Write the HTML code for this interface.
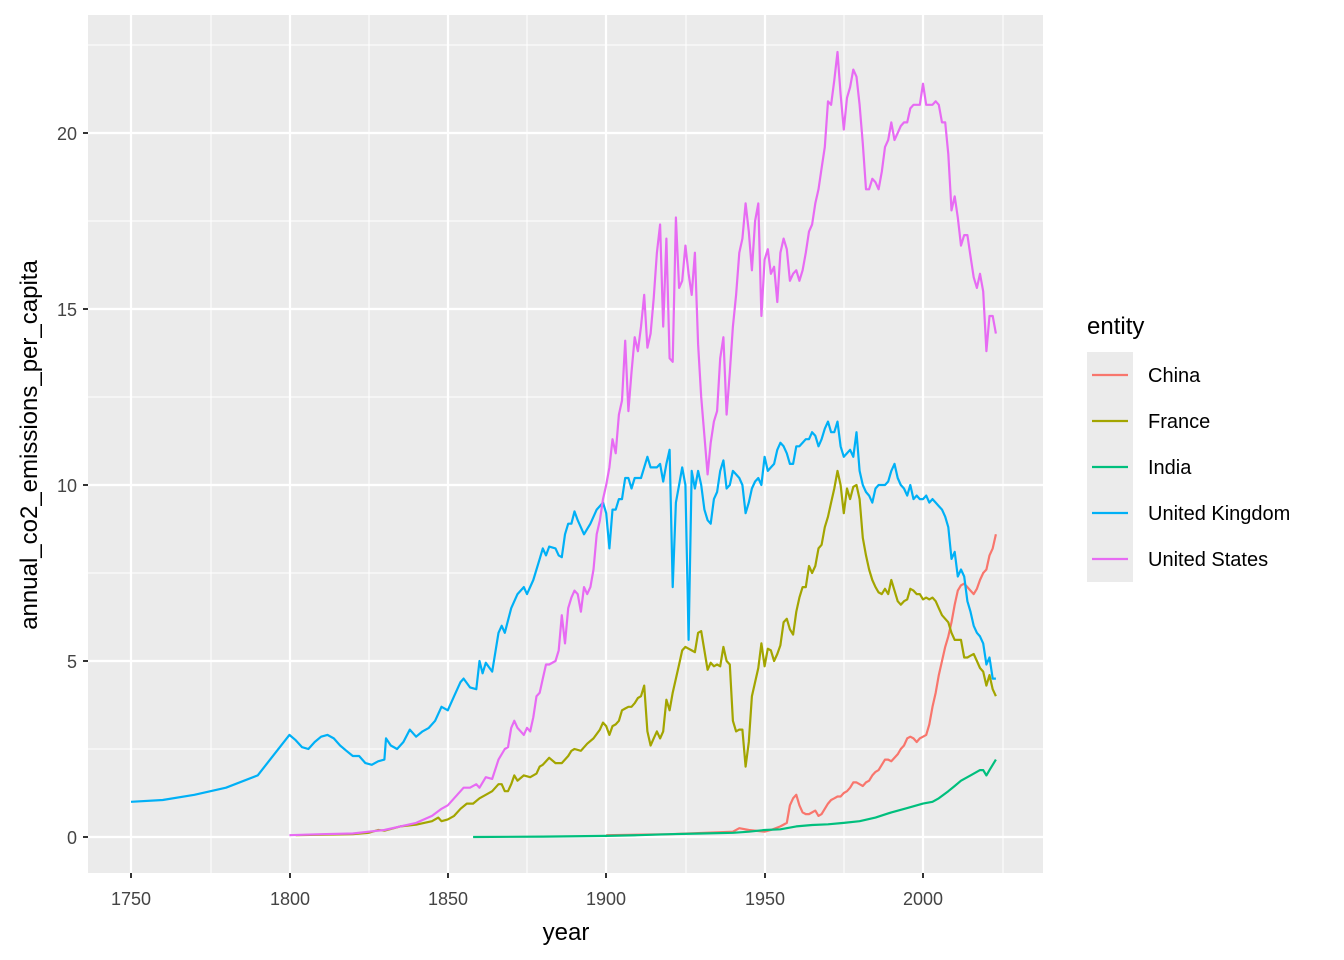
<!DOCTYPE html>
<html><head><meta charset="utf-8"><style>
html,body{margin:0;padding:0;background:#fff;}
svg{display:block;font-family:"Liberation Sans",Arial,sans-serif;}
</style></head><body>
<svg id="s" width="1344" height="960" xmlns="http://www.w3.org/2000/svg">
<rect x="0" y="0" width="1344" height="960" fill="#fff"/>
<rect x="88" y="15" width="955" height="858" fill="#ebebeb"/>
<g stroke="#fff" stroke-width="1" fill="none">
<line x1="88" x2="1043" y1="749" y2="749"/><line x1="88" x2="1043" y1="573" y2="573"/><line x1="88" x2="1043" y1="397" y2="397"/><line x1="88" x2="1043" y1="221" y2="221"/><line x1="88" x2="1043" y1="45" y2="45"/>
<line y1="15" y2="873" x1="211" x2="211"/><line y1="15" y2="873" x1="369" x2="369"/><line y1="15" y2="873" x1="527" x2="527"/><line y1="15" y2="873" x1="686" x2="686"/><line y1="15" y2="873" x1="844" x2="844"/><line y1="15" y2="873" x1="1003" x2="1003"/>
</g>
<g stroke="#fff" stroke-width="2.2" fill="none">
<line x1="88" x2="1043" y1="837" y2="837"/><line x1="88" x2="1043" y1="661" y2="661"/><line x1="88" x2="1043" y1="485" y2="485"/><line x1="88" x2="1043" y1="309" y2="309"/><line x1="88" x2="1043" y1="133" y2="133"/>
<line y1="15" y2="873" x1="131" x2="131"/><line y1="15" y2="873" x1="290" x2="290"/><line y1="15" y2="873" x1="448" x2="448"/><line y1="15" y2="873" x1="606" x2="606"/><line y1="15" y2="873" x1="765" x2="765"/><line y1="15" y2="873" x1="923" x2="923"/>
</g>
<g id="series" fill="none" stroke-width="2.2" stroke-linejoin="round"></g>
<g stroke="#333" stroke-width="2">
<line x1="83" x2="88" y1="837" y2="837"/><line x1="83" x2="88" y1="661" y2="661"/><line x1="83" x2="88" y1="485" y2="485"/><line x1="83" x2="88" y1="309" y2="309"/><line x1="83" x2="88" y1="133" y2="133"/>
<line y1="873" y2="878" x1="131" x2="131"/><line y1="873" y2="878" x1="290" x2="290"/><line y1="873" y2="878" x1="448" x2="448"/><line y1="873" y2="878" x1="606" x2="606"/><line y1="873" y2="878" x1="765" x2="765"/><line y1="873" y2="878" x1="923" x2="923"/>
</g>
<g fill="#444" font-size="18" text-anchor="end">
<text x="77" y="844">0</text><text x="77" y="668">5</text><text x="77" y="492">10</text><text x="77" y="316">15</text><text x="77" y="140">20</text>
</g>
<g fill="#444" font-size="18" text-anchor="middle">
<text x="131" y="905">1750</text><text x="290" y="905">1800</text><text x="448" y="905">1850</text><text x="606" y="905">1900</text><text x="765" y="905">1950</text><text x="923" y="905">2000</text>
</g>
<text x="566" y="940" font-size="24" text-anchor="middle" fill="#000">year</text>
<text transform="translate(37,445) rotate(-90)" font-size="24" text-anchor="middle" fill="#000">annual_co2_emissions_per_capita</text>
<text x="1087" y="334" font-size="24" fill="#000">entity</text>
<rect x="1087" y="352" width="46" height="230" fill="#ebebeb"/>
<g stroke-width="2.2">
<line x1="1092" x2="1128" y1="375" y2="375" stroke="#F8766D"/>
<line x1="1092" x2="1128" y1="421" y2="421" stroke="#A3A500"/>
<line x1="1092" x2="1128" y1="467" y2="467" stroke="#00BF7D"/>
<line x1="1092" x2="1128" y1="513" y2="513" stroke="#00B0F6"/>
<line x1="1092" x2="1128" y1="559" y2="559" stroke="#E76BF3"/>
</g>
<g font-size="20" fill="#000">
<text x="1148" y="382">China</text><text x="1148" y="428">France</text><text x="1148" y="474">India</text><text x="1148" y="520">United Kingdom</text><text x="1148" y="566">United States</text>
</g>
</svg>
<script>
function X(y){return 131+(y-1750)*3.168;}
function Y(v){return 837-35.2*v;}
function pts(arr){var o=[];for(var i=0;i<arr.length;i+=2)o.push(X(arr[i]).toFixed(1)+","+Y(arr[i+1]).toFixed(1));return o.join(" ");}
var uk=[1750,1.0,1760,1.05,1770,1.2,1780,1.4,1790,1.75,1800,2.9,1802,2.75,1804,2.55,1806,2.5,1808,2.7,1810,2.85,1812,2.9,1814,2.8,1816,2.6,1818,2.45,1820,2.3,1822,2.3,1824,2.1,1826,2.05,1828,2.15,1830,2.2,1830.5,2.8,1832,2.6,1834,2.5,1836,2.7,1838,3.05,1840,2.85,1842,3.0,1844,3.1,1846,3.3,1848,3.7,1850,3.6,1852,4.0,1854,4.4,1855,4.5,1857,4.25,1859,4.2,1860,5.0,1861,4.65,1862,4.95,1864,4.7,1866,5.8,1867,6.0,1868,5.8,1870,6.5,1872,6.9,1874,7.1,1875,6.9,1877,7.3,1879,7.9,1880,8.2,1881,8.0,1882,8.25,1884,8.2,1885,8.0,1886,7.95,1887,8.6,1888,8.9,1889,8.9,1890,9.25,1891,9.0,1893,8.6,1895,8.9,1897,9.3,1899,9.5,1900,9.2,1901,8.2,1902,9.3,1903,9.3,1904,9.6,1905,9.6,1906,10.2,1907,10.2,1908,9.9,1909,10.2,1911,10.2,1913,10.8,1914,10.5,1916,10.5,1917,10.6,1918,10.1,1919,10.6,1920,11.0,1921,7.1,1922,9.5,1923,10.0,1924,10.5,1925,10.0,1926,5.6,1927,10.4,1928,9.9,1929,10.4,1930,10.0,1931,9.3,1932,9.0,1933,8.9,1934,9.6,1935,9.8,1936,10.4,1937,10.7,1938,9.9,1939,10.0,1940,10.4,1941,10.3,1942,10.2,1943,10.0,1944,9.2,1945,9.5,1946,9.9,1947,10.1,1948,10.2,1949,10.0,1950,10.8,1951,10.4,1952,10.5,1953,10.6,1954,11.0,1955,11.2,1956,11.1,1957,10.9,1958,10.6,1959,10.6,1960,11.1,1961,11.1,1962,11.2,1963,11.3,1964,11.3,1965,11.5,1966,11.4,1967,11.1,1968,11.3,1969,11.6,1970,11.8,1971,11.5,1972,11.5,1973,11.8,1974,11.1,1975,10.8,1976,10.9,1977,11.0,1978,10.8,1979,11.5,1980,10.4,1981,10.0,1982,9.8,1983,9.7,1984,9.5,1985,9.9,1986,10.0,1987,10.0,1988,10.0,1989,10.1,1990,10.4,1991,10.6,1992,10.2,1993,10.0,1994,9.9,1995,9.7,1996,10.0,1997,9.6,1998,9.7,1999,9.6,2000,9.6,2001,9.7,2002,9.5,2003,9.6,2004,9.5,2005,9.4,2006,9.3,2007,9.1,2008,8.8,2009,7.9,2010,8.1,2011,7.4,2012,7.6,2013,7.4,2014,6.7,2015,6.4,2016,6.0,2017,5.8,2018,5.7,2019,5.5,2020,4.9,2021,5.1,2022,4.5,2023,4.5];
var us=[1800,0.05,1810,0.08,1820,0.1,1825,0.15,1830,0.2,1835,0.3,1840,0.4,1845,0.6,1848,0.8,1850,0.9,1852,1.1,1855,1.4,1857,1.4,1859,1.5,1860,1.4,1862,1.7,1864,1.65,1866,2.2,1868,2.5,1869,2.55,1870,3.1,1871,3.3,1872,3.1,1874,2.9,1875,3.1,1876,3.0,1877,3.4,1878,4.0,1879,4.1,1880,4.5,1881,4.9,1882,4.9,1884,5.0,1885,5.3,1886,6.3,1887,5.5,1888,6.5,1889,6.8,1890,7.0,1891,6.9,1892,6.4,1893,7.1,1894,6.9,1895,7.1,1896,7.6,1897,8.6,1898,9.0,1899,9.6,1900,10.0,1901,10.5,1902,11.3,1903,10.9,1904,12.0,1905,12.4,1906,14.1,1907,12.1,1908,13.2,1909,14.2,1910,13.8,1911,14.5,1912,15.4,1913,13.9,1914,14.3,1915,15.3,1916,16.6,1917,17.4,1918,14.5,1919,17.0,1920,13.6,1921,13.5,1922,17.6,1923,15.6,1924,15.8,1925,16.8,1926,16.0,1927,15.4,1928,16.6,1929,14.0,1930,12.5,1931,11.4,1932,10.3,1933,11.2,1934,11.8,1935,12.1,1936,13.6,1937,14.2,1938,12.0,1939,13.2,1940,14.5,1941,15.4,1942,16.6,1943,17.0,1944,18.0,1945,17.2,1946,16.1,1947,17.5,1948,18.0,1949,14.8,1950,16.4,1951,16.7,1952,16.0,1953,16.2,1954,15.2,1955,16.6,1956,17.0,1957,16.7,1958,15.8,1959,16.0,1960,16.1,1961,15.8,1962,16.1,1963,16.6,1964,17.2,1965,17.4,1966,18.0,1967,18.4,1968,19.0,1969,19.6,1970,20.9,1971,20.8,1972,21.5,1973,22.3,1974,21.1,1975,20.1,1976,21.0,1977,21.3,1978,21.8,1979,21.6,1980,20.8,1981,19.7,1982,18.4,1983,18.4,1984,18.7,1985,18.6,1986,18.4,1987,18.9,1988,19.6,1989,19.8,1990,20.3,1991,19.8,1992,20.0,1993,20.2,1994,20.3,1995,20.3,1996,20.7,1997,20.8,1998,20.8,1999,20.8,2000,21.4,2001,20.8,2002,20.8,2003,20.8,2004,20.9,2005,20.8,2006,20.3,2007,20.3,2008,19.4,2009,17.8,2010,18.2,2011,17.6,2012,16.8,2013,17.1,2014,17.1,2015,16.5,2016,15.9,2017,15.6,2018,16.0,2019,15.5,2020,13.8,2021,14.8,2022,14.8,2023,14.3];
var fr=[1802,0.05,1820,0.08,1825,0.12,1828,0.2,1830,0.18,1835,0.3,1840,0.35,1845,0.45,1847,0.55,1848,0.45,1850,0.5,1852,0.6,1854,0.8,1856,0.95,1858,0.95,1860,1.1,1862,1.2,1864,1.3,1866,1.5,1867,1.5,1868,1.3,1869,1.3,1870,1.5,1871,1.75,1872,1.6,1874,1.75,1876,1.7,1878,1.8,1879,2.0,1880,2.05,1882,2.25,1884,2.1,1886,2.1,1888,2.3,1889,2.45,1890,2.5,1892,2.45,1894,2.65,1896,2.8,1898,3.05,1899,3.25,1900,3.15,1901,2.9,1902,3.15,1903,3.2,1904,3.3,1905,3.6,1906,3.65,1907,3.7,1908,3.7,1909,3.8,1910,3.95,1911,4.0,1912,4.3,1913,3.0,1914,2.6,1915,2.8,1916,3.0,1917,2.8,1918,3.0,1919,3.9,1920,3.6,1921,4.1,1922,4.5,1923,4.9,1924,5.3,1925,5.4,1926,5.35,1927,5.3,1928,5.25,1929,5.8,1930,5.85,1931,5.3,1932,4.75,1933,4.95,1934,4.85,1935,4.9,1936,4.85,1937,5.4,1938,5.0,1939,4.9,1940,3.3,1941,3.0,1942,3.05,1943,3.05,1944,2.0,1945,2.7,1946,4.0,1947,4.4,1948,4.8,1949,5.5,1950,4.85,1951,5.35,1952,5.3,1953,5.0,1954,5.2,1955,5.45,1956,6.1,1957,6.2,1958,5.9,1959,5.75,1960,6.4,1961,6.8,1962,7.1,1963,7.1,1964,7.7,1965,7.5,1966,7.7,1967,8.2,1968,8.3,1969,8.8,1970,9.1,1971,9.5,1972,9.9,1973,10.4,1974,10.0,1975,9.2,1976,9.9,1977,9.6,1978,9.95,1979,10.0,1980,9.6,1981,8.5,1982,8.0,1983,7.6,1984,7.3,1985,7.1,1986,6.95,1987,6.9,1988,7.05,1989,6.9,1990,7.3,1991,7.0,1992,6.7,1993,6.6,1994,6.7,1995,6.75,1996,7.05,1997,7.0,1998,6.9,1999,6.9,2000,6.75,2001,6.8,2002,6.75,2003,6.8,2004,6.7,2005,6.5,2006,6.3,2007,6.2,2008,6.1,2009,5.8,2010,5.6,2011,5.6,2012,5.6,2013,5.1,2014,5.1,2015,5.15,2016,5.2,2017,5.0,2018,4.8,2019,4.7,2020,4.3,2021,4.6,2022,4.2,2023,4.0];
var cn=[1900,0.05,1920,0.08,1940,0.15,1942,0.25,1945,0.2,1950,0.15,1952,0.2,1955,0.3,1957,0.4,1958,0.9,1959,1.1,1960,1.2,1961,0.9,1962,0.7,1963,0.65,1964,0.65,1965,0.7,1966,0.75,1967,0.6,1968,0.65,1969,0.8,1970,0.95,1971,1.05,1972,1.1,1973,1.15,1974,1.15,1975,1.25,1976,1.3,1977,1.4,1978,1.55,1979,1.55,1980,1.5,1981,1.45,1982,1.55,1983,1.6,1984,1.75,1985,1.85,1986,1.9,1987,2.05,1988,2.2,1989,2.2,1990,2.15,1991,2.25,1992,2.35,1993,2.5,1994,2.6,1995,2.8,1996,2.85,1997,2.8,1998,2.7,1999,2.8,2000,2.85,2001,2.9,2002,3.2,2003,3.7,2004,4.1,2005,4.6,2006,5.0,2007,5.4,2008,5.7,2009,6.1,2010,6.6,2011,7.0,2012,7.15,2013,7.2,2014,7.1,2015,7.0,2016,6.9,2017,7.05,2018,7.3,2019,7.5,2020,7.6,2021,8.0,2022,8.2,2023,8.6];
var ind=[1858,0.0,1880,0.01,1900,0.03,1910,0.05,1920,0.08,1930,0.1,1940,0.12,1945,0.15,1950,0.2,1955,0.22,1960,0.3,1965,0.34,1970,0.36,1975,0.4,1980,0.45,1985,0.55,1990,0.7,1995,0.82,2000,0.95,2003,1.0,2005,1.1,2008,1.3,2010,1.45,2012,1.6,2015,1.75,2018,1.9,2019,1.9,2020,1.75,2021,1.9,2022,2.05,2023,2.2];
var g=document.getElementById("series");
[[cn,"#F8766D"],[fr,"#A3A500"],[ind,"#00BF7D"],[uk,"#00B0F6"],[us,"#E76BF3"]].forEach(function(s){
var p=document.createElementNS("http://www.w3.org/2000/svg","polyline");
p.setAttribute("points",pts(s[0]));p.setAttribute("stroke",s[1]);g.appendChild(p);});
</script>
</body></html>
